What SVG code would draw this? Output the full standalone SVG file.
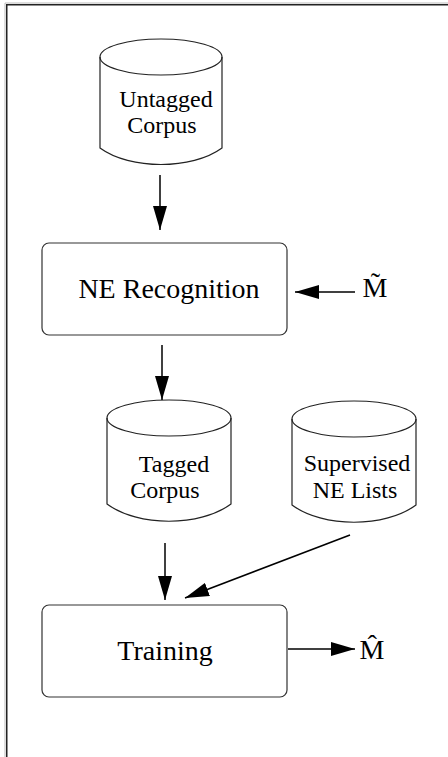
<svg xmlns="http://www.w3.org/2000/svg" width="448" height="757" viewBox="0 0 448 757">
<style>
.frame{fill:none;stroke:#222;stroke-width:1.5}
.shadow{fill:none;stroke:#bbb;stroke-width:1}
.shape{fill:none;stroke:#222;stroke-width:1.2}
.box{fill:none;stroke:#333;stroke-width:1.2}
.conn{fill:none;stroke:#000;stroke-width:1.5}
text{fill:#000;text-anchor:middle}
.cyl{font-size:24px}
.big{font-size:28px}
</style>
<defs>
<marker id="ah" markerUnits="userSpaceOnUse" markerWidth="26" markerHeight="14" refX="24" refY="7" orient="auto">
<path d="M0,0 L24,7 L0,14 Z" fill="#000"/>
</marker>
</defs>
<rect width="448" height="757" fill="#fff"/>
<g id="frame">
<path class="shadow" d="M5,757 V3 H448"/>
<path class="frame" d="M6.75,757 V4.75 H448"/>
</g>
<g font-family="Liberation Serif, DejaVu Serif, serif">
<g id="untagged">
<ellipse class="shape" cx="161" cy="57" rx="61" ry="18"/>
<path class="shape" d="M100,57 V148 C130,170 192,170 222,148 V57"/>
<text class="cyl" x="166" y="107">Untagged</text>
<text class="cyl" x="162" y="133">Corpus</text>
</g>
<g id="ner">
<rect class="box" x="42" y="243" width="245" height="92" rx="7"/>
<text class="big" x="169" y="298">NE Recognition</text>
</g>
<g id="mtilde">
<text class="big" x="375" y="297">M̃</text>
</g>
<g id="tagged">
<ellipse class="shape" cx="169" cy="418" rx="62" ry="18"/>
<path class="shape" d="M107,418 V504 C138,527 200,527 231,504 V418"/>
<text class="cyl" x="174" y="472">Tagged</text>
<text class="cyl" x="165" y="498">Corpus</text>
</g>
<g id="supervised">
<ellipse class="shape" cx="354" cy="419" rx="62" ry="18"/>
<path class="shape" d="M292,419 V505 C323,528 385,528 416,505 V419"/>
<text class="cyl" x="357" y="471">Supervised</text>
<text class="cyl" x="355" y="498">NE Lists</text>
</g>
<g id="training">
<rect class="box" x="42" y="605" width="245" height="92" rx="7"/>
<text class="big" x="165" y="660">Training</text>
</g>
<g id="mhat">
<text class="big" x="372" y="659">M̂</text>
</g>
</g>
<g id="connectors">
<line class="conn" x1="160" y1="175" x2="160" y2="230" marker-end="url(#ah)"/>
<line class="conn" x1="355" y1="292" x2="295" y2="292" marker-end="url(#ah)"/>
<line class="conn" x1="162" y1="345" x2="162" y2="400" marker-end="url(#ah)"/>
<line class="conn" x1="165" y1="543" x2="165" y2="600" marker-end="url(#ah)"/>
<line class="conn" x1="350" y1="535" x2="185" y2="598" marker-end="url(#ah)"/>
<line class="conn" x1="288" y1="649" x2="355" y2="649" marker-end="url(#ah)"/>
</g>
</svg>
